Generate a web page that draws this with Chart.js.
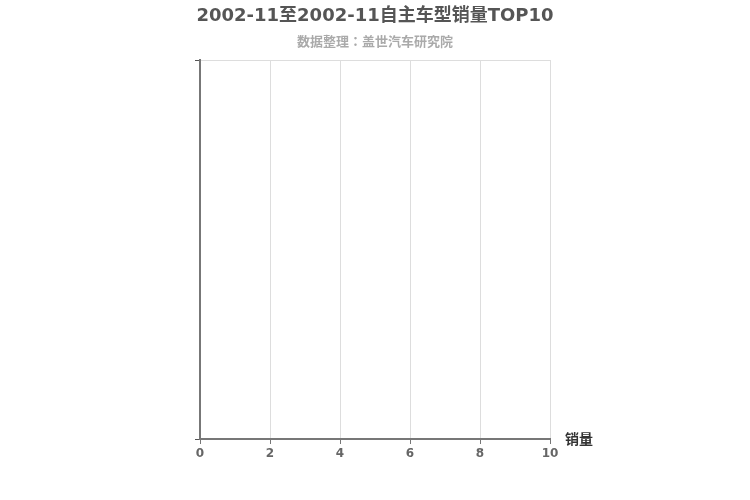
<!DOCTYPE html>
<html>
<head>
<meta charset="utf-8">
<script src="https://cdn.jsdelivr.net/npm/chart.js@4"></script>
<style>
  html, body { margin: 0; padding: 0; background: #fff; }
  #wrap { width: 750px; height: 500px; }
</style>
</head>
<body>
<div id="wrap"><canvas id="chart" width="750" height="500"></canvas></div>
<script>
// data (the source chart is empty: no models listed)
const categories = [];
const sales = [];
const xTicks = [0, 2, 4, 6, 8, 10];

const titleText = "2002-11至2002-11自主车型销量TOP10";
const subtitleText = "数据整理：盖世汽车研究院";
const axisName = "销量";

const FONT = "'DejaVu Sans', 'Noto Sans CJK SC', sans-serif";
const CJK = "'Noto Sans CJK JP', 'Noto Sans CJK SC', sans-serif";

// draws title, subtitle and axis name
const textPlugin = {
  id: "texts",
  afterDraw(c) {
    const ctx = c.ctx;
    const area = c.chartArea;
    ctx.save();
    ctx.textAlign = "center";
    ctx.textBaseline = "middle";
    ctx.fillStyle = "#555";
    ctx.font = "bold 18px " + FONT;
    ctx.fillText(titleText, 375, 16);
    ctx.fillStyle = "#aaa";
    ctx.font = "bold 13px " + CJK;
    ctx.fillText(subtitleText, 375, 41);
    ctx.fillStyle = "#333";
    ctx.font = "bold 14px " + FONT;
    ctx.textAlign = "left";
    ctx.fillText(axisName, area.right + 15, area.bottom + 1);
    ctx.restore();
  }
};

const ctx = document.getElementById("chart").getContext("2d");

new Chart(ctx, {
  type: "bar",
  data: {
    labels: categories,
    datasets: [{
      label: axisName,
      data: sales,
      backgroundColor: "#5470c6"
    }]
  },
  plugins: [textPlugin],
  options: {
    indexAxis: "y",
    responsive: false,
    animation: false,
    layout: { padding: { left: 195, right: 200, top: 60, bottom: 30 } },
    plugins: {
      legend: { display: false },
      tooltip: { enabled: false }
    },
    scales: {
      x: {
        type: "linear",
        min: 0,
        max: 10,
        afterBuildTicks: (s) => { s.ticks = xTicks.map(v => ({ value: v })); },
        border: { color: "#777", width: 2 },
        grid: { color: "#ddd", tickColor: "#777", tickLength: 5 },
        ticks: {
          color: "#666",
          padding: 3,
          font: { family: FONT, size: 12, weight: "bold" }
        },
        afterFit: (s) => { s.height = 31; }
      },
      y: {
        type: "linear",
        min: 0,
        max: 1,
        offset: false,
        afterBuildTicks: (s) => { s.ticks = [{ value: 0 }, { value: 1 }]; },
        ticks: { callback: () => "" },
        border: { color: "#777", width: 2 },
        grid: {
          offset: false,
          color: (c) => (c.tick && c.tick.value === 1 ? "#ddd" : "rgba(0,0,0,0)"),
          tickColor: "#555",
          tickLength: 5
        },
        afterFit: (s) => { s.width = 5; }
      }
    }
  }
});
</script>
</body>
</html>
